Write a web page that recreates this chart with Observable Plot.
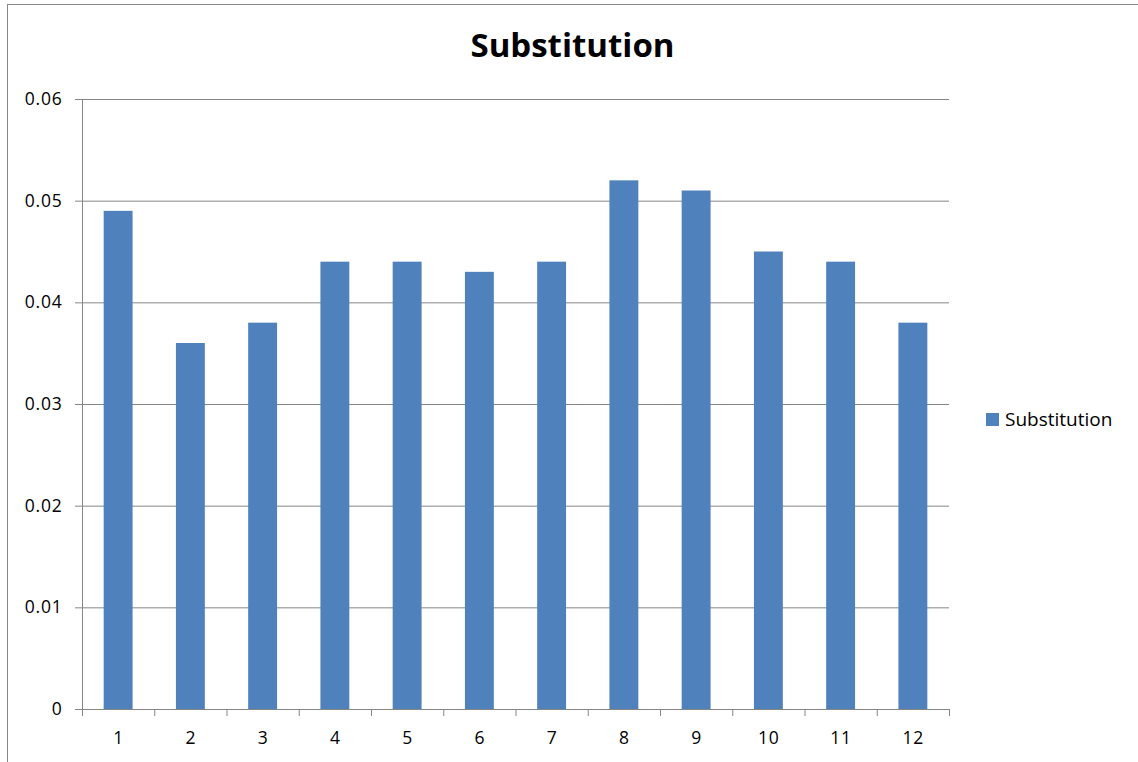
<!DOCTYPE html>
<html>
<head>
<meta charset="utf-8">
<script src="https://cdn.jsdelivr.net/npm/d3@7"></script>
<script src="https://cdn.jsdelivr.net/npm/@observablehq/plot@0.6"></script>
<style>
  html, body { margin: 0; padding: 0; background: #fff; }
  #wrap { position: relative; width: 1138px; height: 762px; overflow: hidden; font-family: "Open Sans", sans-serif; }
  #frame { position: absolute; left: 7px; top: 4px; width: 1140px; height: 800px; border: 1.5px solid #888; box-sizing: border-box; }
  #title { position: absolute; left: 7px; width: 1131px; top: 22px; text-align: center; font-weight: bold; font-size: 33px; color: #000; }
  #legend { position: absolute; left: 986px; top: 406px; font-size: 19px; color: #000; display: flex; align-items: center; }
  #legend .sw { width: 13px; height: 13px; background: #4F81BD; margin-right: 6px; }
  #chart { position: absolute; left: 0; top: 0; }
  #chart svg text { letter-spacing: 0.8px; }
</style>
</head>
<body>
<div id="wrap">
  <div id="frame"></div>
  <div id="chart"></div>
  <div id="title">Substitution</div>
  <div id="legend"><div class="sw"></div><span>Substitution</span></div>
</div>
<script>
const categories = [1, 2, 3, 4, 5, 6, 7, 8, 9, 10, 11, 12];
const values = [0.049, 0.036, 0.038, 0.044, 0.044, 0.043, 0.044, 0.052, 0.051, 0.045, 0.044, 0.038];
const yTicks = [0, 0.01, 0.02, 0.03, 0.04, 0.05, 0.06];
const seriesName = "Substitution";

const data = categories.map((c, i) => ({cat: c, value: values[i]}));
const boundaries = d3.range(0.5, categories.length + 1, 1);

const chart = Plot.plot({
  width: 1138,
  height: 762,
  marginLeft: 82,
  marginRight: 189,
  marginTop: 99,
  marginBottom: 53,
  style: { fontFamily: "Open Sans, sans-serif", fontSize: "17.5px", color: "#000", background: "transparent" },
  x: { domain: [0.5, categories.length + 0.5] },
  y: { domain: [0, 0.06] },
  marks: [
    Plot.gridY(yTicks, { stroke: "#868686", strokeOpacity: 1, strokeWidth: 1 }),
    Plot.rectY(data, { x1: d => d.cat - 0.2, x2: d => d.cat + 0.2, y1: 0, y2: "value", fill: "#4F81BD" }),
    Plot.ruleX([0.5], { stroke: "#868686" }),
    Plot.ruleY([0], { stroke: "#868686" }),
    Plot.axisY(yTicks, { tickSize: 7, tickPadding: 13, tickFormat: d => d === 0 ? "0" : d3.format(".2f")(d), stroke: "#868686", label: null, fill: "#000" }),
    Plot.axisX(boundaries, { tickSize: 7, tickFormat: () => "", stroke: "#868686", label: null }),
    Plot.axisX(categories, { tickSize: 0, tickPadding: 22, tickFormat: d => String(d), label: null, fill: "#000" })
  ]
});
document.getElementById("chart").appendChild(chart);
</script>
</body>
</html>
